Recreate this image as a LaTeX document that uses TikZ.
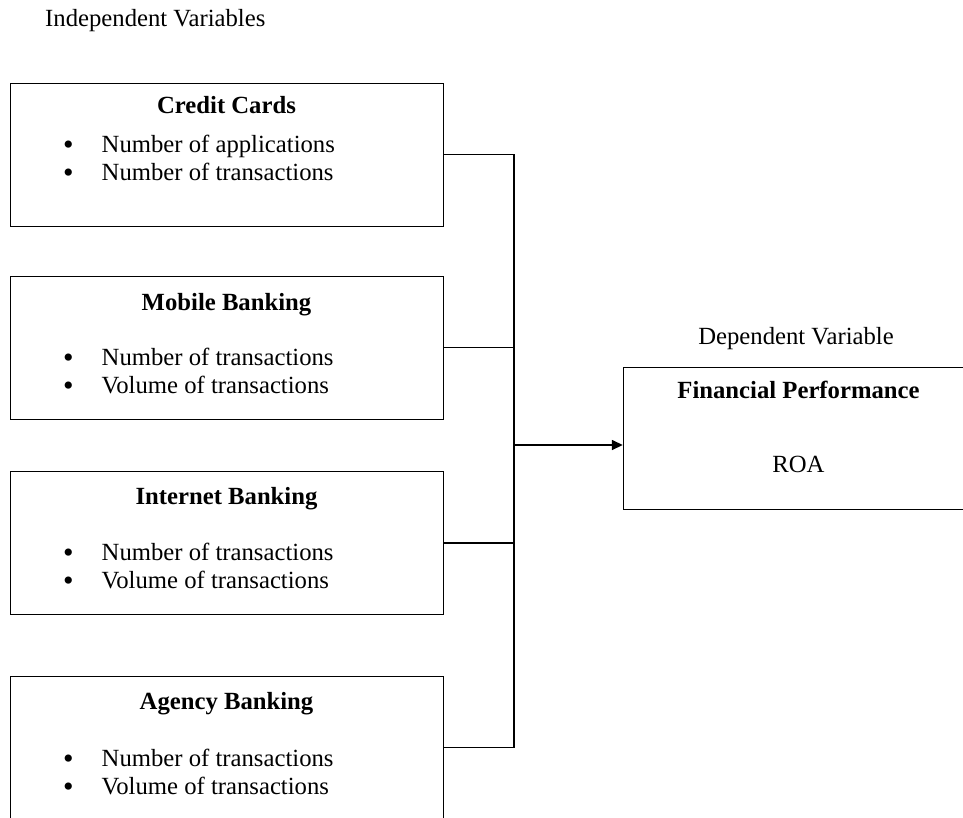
\documentclass[tikz,border=0pt]{standalone}
\usepackage{fontspec}
\setmainfont{Liberation Serif}
\usetikzlibrary{arrows.meta,positioning}
\newcommand{\bul}[1]{\makebox[38.5pt][l]{\smash{\raisebox{-2.2pt}{\fontsize{30}{30}\selectfont\textbullet}}}#1}
\tikzset{>={Triangle[length=11pt,width=10pt]},line width=1.5pt,
  every node/.style={font=\fontsize{24.7}{28}\selectfont,inner sep=0pt},
  varbox/.style={draw,minimum width=433pt,minimum height=143pt},
  depbox/.style={draw,minimum width=352pt,minimum height=142pt},
  title/.style={anchor=base,font=\fontsize{24.7}{28}\selectfont\bfseries},
  item/.style={anchor=base west},
  link/.style={draw,line width=1.5pt}}
\begin{document}
\begin{tikzpicture}[x=1pt,y=-1pt]
\useasboundingbox (0,0) rectangle (963,818);
\clip (0,0) rectangle (963,818);
\node[anchor=base west] (indep) at (45,27) {Independent Variables};
% independent variables
\node[varbox] (cc) at (226.5,154.5) {};
\node[title] (cct) at (226.5,114) {Credit Cards};
\node[item] (cca) at (63,152.5) {\bul{Number of applications}};
\node[item] (ccb) at (63,180.5) {\bul{Number of transactions}};
\node[varbox] (mb) at (226.5,347.5) {};
\node[title] (mbt) at (226.5,310) {Mobile Banking};
\node[item] (mba) at (63,365.5) {\bul{Number of transactions}};
\node[item] (mbb) at (63,393.5) {\bul{Volume of transactions}};
\node[varbox] (ib) at (226.5,543) {};
\node[title] (ibt) at (226.5,504) {Internet Banking};
\node[item] (iba) at (63,560.5) {\bul{Number of transactions}};
\node[item] (ibb) at (63,588.5) {\bul{Volume of transactions}};
\node[varbox] (ab) at (226.5,747.5) {};
\node[title] (abt) at (226.5,709) {Agency Banking};
\node[item] (aba) at (63,766.5) {\bul{Number of transactions}};
\node[item] (abb) at (63,794.5) {\bul{Volume of transactions}};
% dependent variable
\node[anchor=base] (dep) at (796,344) {Dependent Variable};
\node[depbox] (fp) at (799,438) {};
\node[title] (fpt) at (798.5,398) {Financial Performance};
\node[anchor=base] (roa) at (798.5,472) {ROA};
% connectors
\coordinate (join) at (514,445);
\foreach \b in {cc,mb,ib,ab}
  \draw[link] (\b.east) -- (\b.east -| join);
\draw[link] (cc.east -| join) -- (ab.east -| join);
\draw[link,->] (join) -- (join -| fp.west);
\end{tikzpicture}
\end{document}
